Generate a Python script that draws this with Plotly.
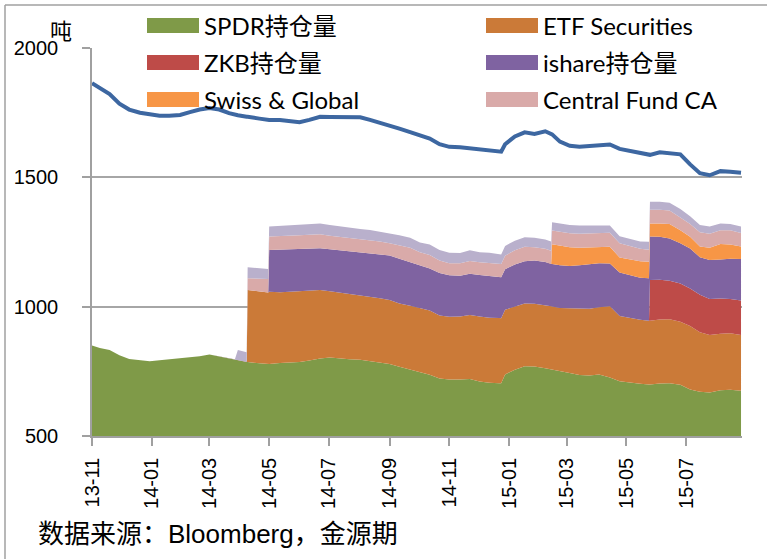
import plotly.graph_objects as go

dates = [
    "2013-11-01", "2013-11-09", "2013-11-19", "2013-11-29", "2013-12-09", "2013-12-20", "2013-12-30",
    "2014-01-09", "2014-01-19", "2014-01-30", "2014-02-09", "2014-02-19", "2014-03-01", "2014-03-11",
    "2014-03-21", "2014-03-27", "2014-03-30", "2014-04-08", "2014-04-09", "2014-04-21", "2014-04-30",
    "2014-05-01", "2014-05-12", "2014-05-22", "2014-06-01", "2014-06-11", "2014-06-22", "2014-07-02",
    "2014-07-12", "2014-07-22", "2014-08-02", "2014-08-12", "2014-08-22", "2014-09-01", "2014-09-11",
    "2014-09-22", "2014-10-02", "2014-10-12", "2014-10-22", "2014-11-01", "2014-11-12", "2014-11-22",
    "2014-12-02", "2014-12-12", "2014-12-22", "2014-12-24", "2014-12-28", "2015-01-07", "2015-01-17",
    "2015-01-27", "2015-02-07", "2015-02-13", "2015-02-14", "2015-02-22", "2015-03-04", "2015-03-14",
    "2015-03-24", "2015-04-03", "2015-04-14", "2015-04-24", "2015-05-04", "2015-05-15", "2015-05-24",
    "2015-05-25", "2015-06-04", "2015-06-14", "2015-06-25", "2015-07-05", "2015-07-15", "2015-07-25",
    "2015-08-05", "2015-08-15", "2015-08-26",
]

spdr = [
    850, 840, 832, 812, 798, 792, 789, 793, 797, 800, 804, 808, 815, 808, 800, 797, 794, 786, 786, 781, 778,
    778, 782, 785, 786, 792, 800, 803, 799, 797, 795, 790, 785, 778, 768, 757, 746, 737, 722, 718, 718, 720,
    711, 706, 704, 704, 738, 756, 770, 769, 762, 758, 758, 752, 744, 736, 734, 738, 726, 712, 706, 702, 699,
    699, 703, 704, 698, 680, 671, 668, 677, 679, 675,
]
etf_sec = [
    0, 0, 0, 0, 0, 0, 0, 0, 0, 0, 0, 0, 0, 0, 0, 0, 0, 0, 278, 277, 277,
    280, 274, 273, 274, 270, 264, 257, 256, 253, 250, 250, 248, 248, 244, 247, 248, 248, 244, 243, 244, 248,
    251, 251, 252, 251, 250, 244, 242, 242, 245, 244, 243, 243, 250, 256, 258, 260, 276, 252, 250, 247, 247,
    247, 247, 247, 244, 245, 230, 222, 218, 218, 215,
]
zkb = [
    0, 0, 0, 0, 0, 0, 0, 0, 0, 0, 0, 0, 0, 0, 0, 0, 0, 0, 0, 0, 0,
    0, 0, 0, 0, 0, 0, 0, 0, 0, 0, 0, 0, 0, 0, 0, 0, 0, 0, 0, 0, 0,
    0, 0, 0, 0, 0, 0, 0, 0, 0, 0, 0, 0, 0, 0, 0, 0, 0, 0, 0, 0, 0,
    157, 154, 149, 148, 145, 145, 140, 137, 133, 134,
]
ishare = [
    0, 0, 0, 0, 0, 0, 0, 0, 0, 0, 0, 0, 0, 0, 0, 0, 0, 0, 0, 0, 0,
    161, 164, 164, 162, 162, 162, 162, 163, 164, 165, 165, 169, 172, 173, 168, 164, 163, 164, 160, 158, 159,
    160, 162, 160, 159, 157, 163, 164, 167, 166, 163, 164, 165, 163, 168, 173, 170, 165, 168, 166, 163, 164,
    168, 166, 164, 155, 155, 145, 150, 150, 155, 160,
]
swiss = [
    0, 0, 0, 0, 0, 0, 0, 0, 0, 0, 0, 0, 0, 0, 0, 0, 0, 0, 0, 0, 0,
    0, 0, 0, 0, 0, 0, 0, 0, 0, 0, 0, 0, 0, 0, 0, 0, 0, 0, 0, 0, 0,
    0, 0, 0, 0, 0, 0, 0, 0, 0, 0, 76, 76, 73, 68, 64, 64, 65, 58, 62, 64, 64,
    51, 52, 56, 50, 45, 42, 48, 60, 55, 49,
]
central = [
    0, 0, 0, 0, 0, 0, 0, 0, 0, 0, 0, 0, 0, 0, 0, 0, 0, 0, 46, 50, 52,
    52, 52, 52, 54, 54, 54, 52, 52, 51, 51, 53, 50, 47, 53, 56, 52, 52, 48, 47, 48, 50,
    50, 51, 52, 51, 52, 55, 56, 52, 51, 51, 53, 54, 54, 54, 55, 54, 54, 55, 52, 48, 46,
    53, 53, 52, 50, 50, 55, 54, 53, 55, 52,
]
other = [
    0, 0, 0, 0, 0, 0, 0, 0, 0, 0, 0, 0, 0, 0, 0, 0, 38, 38, 42, 40, 39,
    39, 40, 41, 41, 41, 42, 42, 40, 40, 39, 38, 38, 39, 38, 38, 38, 40, 41, 40, 39, 41,
    38, 38, 37, 37, 38, 37, 36, 36, 36, 36, 32, 32, 32, 32, 30, 30, 28, 27, 27, 28, 31,
    31, 31, 30, 33, 30, 28, 28, 27, 25, 25,
]
total = [
    1864, 1845, 1822, 1785, 1762, 1750, 1744, 1738, 1738, 1741, 1752, 1762, 1768, 1762, 1748, 1742, 1740,
    1734, 1734, 1727, 1722, 1722, 1722, 1718, 1713, 1722, 1734, 1733, 1732, 1734, 1732, 1722, 1712, 1698,
    1688, 1675, 1662, 1650, 1628, 1618, 1616, 1612, 1606, 1602, 1597, 1599, 1628, 1658, 1674, 1668, 1678,
    1670, 1666, 1638, 1622, 1618, 1622, 1625, 1627, 1610, 1603, 1596, 1588, 1587, 1597, 1592, 1589, 1550,
    1516, 1508, 1524, 1522, 1518,
]

names = ["SPDR持仓量", "ETF Securities", "ZKB持仓量", "ishare持仓量", "Swiss & Global", "Central Fund CA", "其他"]
colors = ["#7f9a48", "#cb7a38", "#be4b48", "#7f63a1", "#f79646", "#d9aaa9", "#b9b0cc"]
series = [spdr, etf_sec, zkb, ishare, swiss, central, other]
y_ticks = [500, 1000, 1500, 2000]
unit_label = "吨"
source_text = "数据来源：Bloomberg，金源期"

W, H = 767, 559
L, R, T, B = 92, 25, 48, 123
PW, PH = W - L - R, H - T - B


def px(xp):
    return (xp - L) / PW


def py(yp):
    return (H - B - yp) / PH


fig = go.Figure()
for name, col, vals in zip(names, colors, series):
    fig.add_trace(go.Scatter(
        x=dates, y=vals, name=name, mode="lines", stackgroup="etf",
        line=dict(width=0, color=col), fillcolor=col, showlegend=False,
    ))
fig.add_trace(go.Scatter(
    x=dates, y=total, name="总持仓", mode="lines",
    line=dict(color="#3d67a1", width=4), showlegend=False,
))

shapes = []
annotations = []
# manual legend (2 columns x 3 rows)
legend_order = [0, 1, 2, 3, 4, 5]
cols_x = [147, 486]
rows_y = [25.5, 62.5, 99.5]
for k, idx in enumerate(legend_order):
    cx = cols_x[k % 2]
    ry = rows_y[k // 2]
    shapes.append(dict(type="rect", xref="paper", yref="paper",
                       x0=px(cx), x1=px(cx + 52), y0=py(ry + 7.5), y1=py(ry - 7.5),
                       fillcolor=colors[idx], line=dict(width=0), layer="above"))
    annotations.append(dict(xref="paper", yref="paper", x=px(cx + 55), y=py(ry),
                            text=names[idx], showarrow=False, xanchor="left", yanchor="middle",
                            font=dict(family="Lato, 'Noto Sans CJK SC'", size=24, color="#000000")))

# outer frame lines (top & left)
shapes.append(dict(type="line", xref="paper", yref="paper", x0=px(5), x1=px(767), y0=py(5), y1=py(5),
                   line=dict(color="#a0a0a0", width=1.5)))
shapes.append(dict(type="line", xref="paper", yref="paper", x0=px(5), x1=px(5), y0=py(5), y1=py(559),
                   line=dict(color="#a0a0a0", width=1.5)))

annotations.append(dict(xref="paper", yref="paper", x=px(61), y=py(29), text=unit_label, showarrow=False,
                        xanchor="center", yanchor="middle",
                        font=dict(family="'Noto Sans CJK SC'", size=22, color="#000000")))
annotations.append(dict(xref="paper", yref="paper", x=px(36), y=py(534), text=source_text, showarrow=False,
                        xanchor="left", yanchor="middle",
                        font=dict(family="'Liberation Sans', 'Noto Sans CJK SC'", size=26, color="#000000")))

fig.update_layout(
    width=W, height=H,
    margin=dict(l=L, r=R, t=T, b=B),
    paper_bgcolor="white", plot_bgcolor="white",
    showlegend=False,
    shapes=shapes, annotations=annotations,
    xaxis=dict(
        type="date", range=["2013-11-01", "2015-08-27"],
        tick0="2013-11-01", dtick="M2", tickformat="%y-%m", tickangle=-90,
        showgrid=False, showline=True, linecolor="#a0a0a0", linewidth=1.5,
        ticks="outside", ticklen=8, tickcolor="#a0a0a0", tickwidth=1.5,
        tickfont=dict(family="'Liberation Sans'", size=20, color="#000000"),
        ticklabelstandoff=4,
    ),
    yaxis=dict(
        range=[500, 2000], tickvals=y_ticks, showgrid=True, gridcolor="#a6a6a6", gridwidth=1.5,
        showline=True, linecolor="#a0a0a0", linewidth=1.5, zeroline=False,
        ticks="outside", ticklen=8, tickcolor="#a0a0a0", tickwidth=1.5,
        tickfont=dict(family="'Liberation Sans'", size=20, color="#000000"),
        ticklabelstandoff=20,
    ),
)

fig.write_html("out.html", config={"displayModeBar": False},
               post_script="document.body.style.margin='0px';document.body.style.padding='0px';")
